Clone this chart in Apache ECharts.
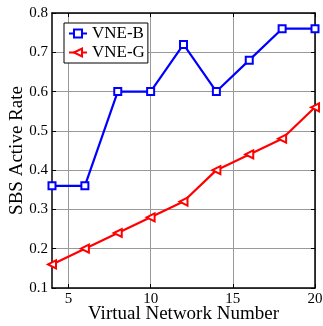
<!DOCTYPE html>
<html><head><meta charset="utf-8">
<script src="https://cdn.jsdelivr.net/npm/echarts@6/dist/echarts.min.js"></script>
<style>html,body{margin:0;padding:0;background:#fff}#c{width:323px;height:326px}</style>
</head><body><div id="c"></div>
<script>
const xValues = [4, 6, 8, 10, 12, 14, 16, 18, 20];
const vneB = [0.36, 0.36, 0.60, 0.60, 0.72, 0.60, 0.68, 0.76, 0.76];
const vneG = [0.16, 0.20, 0.24, 0.28, 0.32, 0.40, 0.44, 0.48, 0.56];
const xTicks = [5, 10, 15, 20];
const seriesNames = ['VNE-B', 'VNE-G'];

const font = 'Liberation Serif';
const chart = echarts.init(document.getElementById('c'));
const pair = (xs, ys) => xs.map((x, i) => [x, ys[i]]);
const axisLine = {lineStyle: {color: '#000', width: 1.5}};
chart.setOption({
  animation: false,
  backgroundColor: '#fff',
  grid: {left: 52, right: 8, top: 13, bottom: 38, containLabel: false, outerBoundsMode: 'none'},
  legend: {
    orient: 'vertical', left: 64, top: 23,
    backgroundColor: '#fff', borderColor: '#000', borderWidth: 1,
    padding: [2, 3, 2, 4], itemGap: 2, itemWidth: 18, itemHeight: 10,
    textStyle: {fontFamily: font, fontSize: 17, color: '#000'},
    data: seriesNames
  },
  xAxis: [{
    type: 'value', min: 4, max: 20,
    name: 'Virtual Network Number', nameLocation: 'middle', nameGap: 17, nameMoveOverlap: false,
    nameTextStyle: {fontFamily: font, fontSize: 19, color: '#000'},
    axisLine: axisLine,
    axisTick: {inside: true, length: 4, customValues: xTicks, lineStyle: {color: '#000'}},
    axisLabel: {customValues: xTicks, fontFamily: font, fontSize: 15, color: '#000', margin: 4},
    splitLine: {show: true, lineStyle: {color: '#999', width: 1}}
  }, {
    type: 'value', min: 4, max: 20, position: 'top',
    axisLine: axisLine,
    axisTick: {inside: true, length: 4, customValues: xTicks, lineStyle: {color: '#000'}},
    axisLabel: {show: false}, splitLine: {show: false}
  }],
  yAxis: [{
    type: 'value', min: 0.1, max: 0.8, interval: 0.1,
    name: 'SBS Active Rate', nameLocation: 'middle', nameGap: 25, nameMoveOverlap: false,
    nameTextStyle: {fontFamily: font, fontSize: 19, color: '#000'},
    axisLine: axisLine,
    axisTick: {inside: true, length: 4, lineStyle: {color: '#000'}},
    axisLabel: {fontFamily: font, fontSize: 15, color: '#000', margin: 4,
      formatter: v => v.toFixed(1)},
    splitLine: {show: true, lineStyle: {color: '#999', width: 1}}
  }, {
    type: 'value', min: 0.1, max: 0.8, interval: 0.1, position: 'right',
    axisLine: axisLine,
    axisTick: {inside: true, length: 4, lineStyle: {color: '#000'}},
    axisLabel: {show: false}, splitLine: {show: false}
  }],
  series: [{
    name: seriesNames[0], type: 'line', data: pair(xValues, vneB),
    symbol: 'rect', symbolSize: 7, z: 3,
    lineStyle: {color: '#0000ff', width: 2.2},
    itemStyle: {color: '#fff', borderColor: '#0000ff', borderWidth: 2}
  }, {
    name: seriesNames[1], type: 'line', data: pair(xValues, vneG),
    symbol: 'triangle', symbolSize: 8, symbolRotate: 90, z: 3,
    lineStyle: {color: '#ff0000', width: 2.2},
    itemStyle: {color: '#fff', borderColor: '#ff0000', borderWidth: 2}
  }]
});
</script></body></html>
